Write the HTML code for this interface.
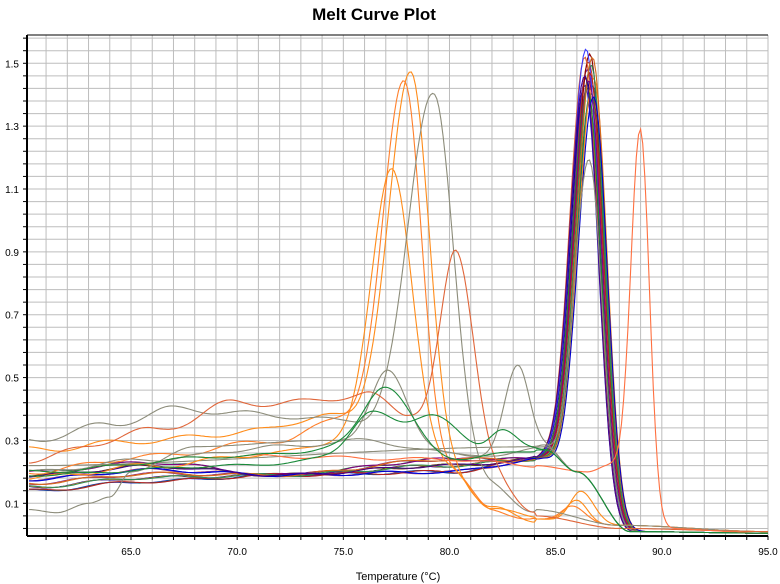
<!DOCTYPE html>
<html><head><meta charset="utf-8"><style>
body{margin:0;background:#fff;}
svg{display:block;font-family:"Liberation Sans",sans-serif;}
</style></head><body>
<svg id="s" width="780" height="584" viewBox="0 0 780 584" xmlns="http://www.w3.org/2000/svg">
<text x="374" y="20" text-anchor="middle" font-size="17" font-weight="bold">Melt Curve Plot</text>
<text x="398" y="580" text-anchor="middle" font-size="11">Temperature (°C)</text>
<g id="grid"></g>
<g id="curves" fill="none" stroke-width="1.1"></g>
<g id="axes"></g>
</svg>
<script>
const NS="http://www.w3.org/2000/svg";
const L=27,R=768,T=35,B=536;
const X=t=>131+(t-65)*21.233;
const Y=v=>503.3-(v-0.1)*314.3;
function el(p,tag,a){const e=document.createElementNS(NS,tag);for(const k in a)e.setAttribute(k,a[k]);p.appendChild(e);return e;}
const g=document.getElementById('grid'),ax=document.getElementById('axes');
for(let t=61;t<=95;t++){const x=X(t);el(g,'line',{x1:x,x2:x,y1:T,y2:B,stroke:'#bdbdbd','stroke-width':1});
 el(ax,'line',{x1:x,x2:x,y1:B,y2:B+4,stroke:'#000'});}
for(let i=0;;i++){const v=0.02+i*0.04;const y=Y(v);if(y<T)break;if(y>B)continue;
 el(g,'line',{x1:L,x2:R,y1:y,y2:y,stroke:'#bdbdbd','stroke-width':1});
 el(ax,'line',{x1:L-4,x2:L,y1:y,y2:y,stroke:'#000'});}
el(ax,'line',{x1:L,x2:L,y1:T,y2:B,stroke:'#000','stroke-width':2});
el(ax,'line',{x1:L,x2:R,y1:B,y2:B,stroke:'#000','stroke-width':2});
el(ax,'line',{x1:L,x2:R,y1:T,y2:T,stroke:'#000','stroke-width':1});
for(let t=65;t<=95;t+=5){const e=el(ax,'text',{x:X(t),y:555,'text-anchor':'middle','font-size':10});e.textContent=t.toFixed(1);}
for(let v=0.1;v<1.6;v+=0.2){const e=el(ax,'text',{x:19,y:Y(v)+4,'text-anchor':'end','font-size':10});e.textContent=v.toFixed(1);}
function interp(b,t){if(t<=b[0][0])return b[0][1];for(let i=1;i<b.length;i++){if(t<=b[i][0]){const a=b[i-1],c=b[i];const f=(t-a[0])/(c[0]-a[0]);const s=f*f*(3-2*f);return a[1]+(c[1]-a[1])*s;}}return b[b.length-1][1];}
function val(c,t){let v=interp(c.b,t);for(const p of c.p){const s=t<p[0]?p[2]:p[3];v+=p[1]*Math.exp(-0.5*((t-p[0])/s)**2);}
 v+=(c.w||0)*Math.sin(t*1.7+(c.ph||0))*(t<84?1:0);return v;}
const C=[];
const mainCols=['#1f1fd0','#00008b','#6a1b9a','#c0392b','#8b0000','#1a8a3a','#0b7a6a','#ff8c1a','#e06030','#3a3aff','#228b22','#800080','#b22222','#2e8b57','#d2691e','#0000cd','#4b0082'];
mainCols.forEach((col,i)=>{const b0=0.14+(i%6)*0.012;const mu=86.4+(i%8)*0.06;
 C.push({c:col,b:[[60.2,b0],[66,b0+0.03],[72,0.19],[80,0.2+(i%3)*0.02],[84.3,0.24],[85.5,0.2],[88.5,0.01],[95,0.005]],p:[[mu,1.27+(i%5)*0.03,0.72,0.62]],w:0.005,ph:i});});
C.push({c:'#8c8c7a',b:[[60.2,0.22],[84.3,0.28],[85.5,0.2],[88.5,0.01],[95,0.005]],p:[[86.6,1.05,0.7,0.6]]});
C.push({c:'#ff8c1a',b:[[60.2,0.27],[66,0.3],[71,0.33],[74,0.38],[76,0.35],[80,0.2],[82,0.08],[84,0.05],[88,0.03],[95,0.01]],p:[[78.2,1.2,1.05,0.85],[86,0.07,0.5,0.5]],w:0.01});
C.push({c:'#ff7f2a',b:[[60.2,0.2],[66,0.25],[72,0.3],[75,0.37],[77,0.35],[80,0.2],[82,0.08],[84,0.05],[88,0.03],[95,0.01]],p:[[77.9,1.12,1.0,0.8],[85.8,0.05,0.5,0.6]],w:0.008,ph:2});
C.push({c:'#ff8c1a',b:[[60.2,0.18],[66,0.22],[72,0.26],[75,0.3],[77,0.3],[80,0.2],[82,0.09],[84,0.05],[88,0.03],[95,0.01]],p:[[77.3,0.87,0.95,0.95],[86.2,0.1,0.5,0.6]],w:0.008,ph:4});
C.push({c:'#8c8c7a',b:[[60.2,0.3],[64,0.35],[67,0.4],[72,0.38],[75,0.36],[78,0.32],[82,0.15],[84,0.08],[88,0.03],[95,0.01]],p:[[79.3,1.13,1.2,0.9]],w:0.01,ph:1});
C.push({c:'#e0663a',b:[[60.2,0.24],[66,0.33],[70,0.42],[73,0.42],[76,0.45],[78,0.38],[80,0.3],[82,0.2],[84,0.06],[88,0.02],[95,0.01]],p:[[80.3,0.6,0.75,0.85]],w:0.012,ph:3});
C.push({c:'#ff7040',b:[[60.2,0.2],[70,0.25],[80,0.24],[84,0.22],[86.5,0.2],[87.5,0.22],[90,0.02],[95,0.005]],p:[[89.0,1.2,0.45,0.42]],w:0.005});
C.push({c:'#8c8c7a',b:[[60.2,0.2],[66,0.24],[72,0.28],[76,0.3],[80,0.26],[82,0.25],[84.5,0.28],[86,0.2],[88.5,0.01],[95,0.005]],p:[[83.2,0.27,0.6,0.55]],w:0.006,ph:5});
C.push({c:'#8c8c7a',b:[[60.2,0.08],[61.5,0.07],[63,0.1],[64,0.12],[65,0.2],[68,0.28],[74,0.3],[78,0.27],[82,0.25],[84.5,0.28],[86,0.2],[88.5,0.01],[95,0.005]],p:[[77.1,0.25,0.8,0.9]]});
C.push({c:'#1a8a3a',b:[[60.2,0.2],[70,0.25],[76,0.28],[80,0.24],[84.5,0.27],[86,0.2],[88.5,0.01],[95,0.005]],p:[[77.0,0.2,1.0,1.2]],w:0.005});
C.push({c:'#1a8a3a',b:[[60.2,0.19],[70,0.22],[76,0.25],[80,0.23],[84.5,0.27],[86,0.2],[88.5,0.01],[95,0.005]],p:[[76.3,0.14,0.9,1.1],[79.3,0.15,1.1,1.2],[82.5,0.08,0.6,0.7]],w:0.004,ph:2});
const cg=document.getElementById('curves');
for(const c of C){let d='';for(let t=60.2;t<=95;t+=0.1){const v=Math.max(0.003,val(c,t));d+=(d?'L':'M')+X(t).toFixed(1)+' '+Math.max(T,Y(v)).toFixed(1);}
 el(cg,'path',{d:d,stroke:c.c});}
</script>
</body></html>
